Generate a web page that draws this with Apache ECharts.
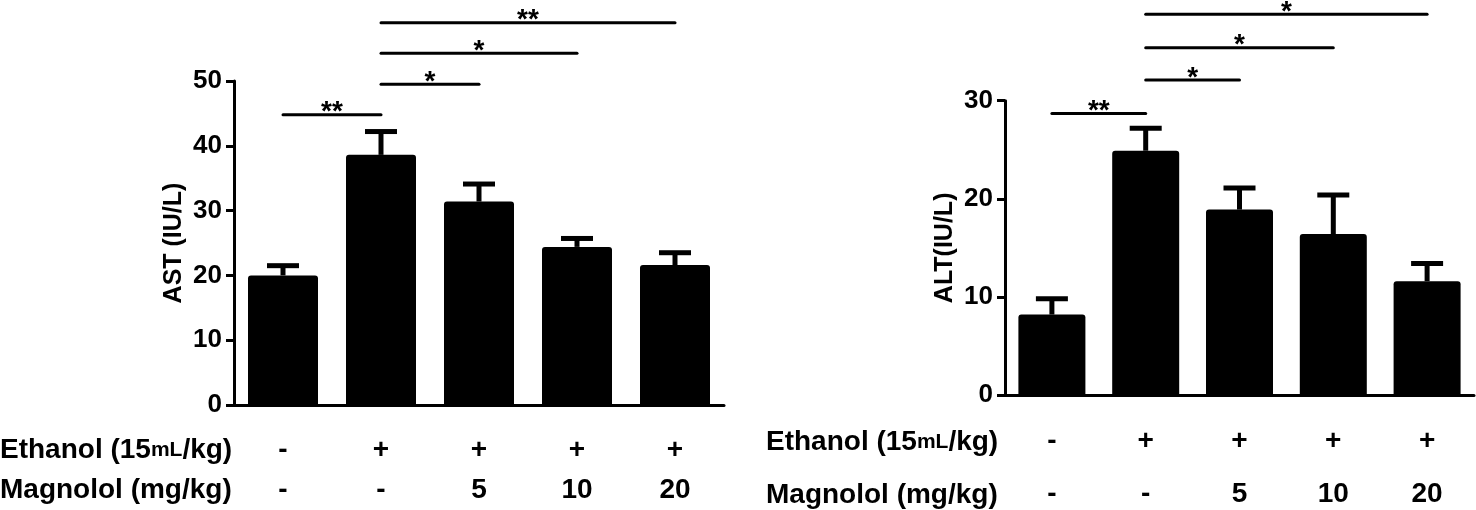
<!DOCTYPE html>
<html>
<head>
<meta charset="utf-8">
<script src="https://cdn.jsdelivr.net/npm/echarts@6.0.0/dist/echarts.min.js"></script>
<style>
html, body { margin: 0; padding: 0; background: #fff; }
#chart { width: 1476px; height: 510px; }
</style>
</head>
<body>
<div id="chart"></div>
<script>
// groups and the two label rows under the bars
var groups = ['control', 'ethanol', 'mag5', 'mag10', 'mag20'];
var ethanolRow = ['-', '+', '+', '+', '+'];
var magnololRow = ['-', '-', '5', '10', '20'];

// AST (IU/L): mean and error
var astMean = [20.0, 38.6, 31.4, 24.4, 21.6];
var astErr = [1.5, 3.6, 2.7, 1.3, 1.9];

// ALT (IU/L): mean and error
var altMean = [8.2, 24.9, 18.9, 16.4, 11.6];
var altErr = [1.6, 2.3, 2.2, 4.0, 1.8];

// significance brackets: [from group, to group, height, stars]
var astSig = [[0, 1, 44.8, '**'], [1, 2, 49.5, '*'], [1, 3, 54.3, '*'], [1, 4, 59.0, '**']];
var altSig = [[0, 1, 28.7, '**'], [1, 2, 32.1, '*'], [1, 3, 35.4, '*'], [1, 4, 38.8, '*']];

var FONT = '"Liberation Sans", Arial, Helvetica, sans-serif';

var chart = echarts.init(document.getElementById('chart'));

function errorItem(params, api) {
	var x = api.value(0), m = api.value(1), e = api.value(2);
	var p0 = api.coord([x, m]);
	var p1 = api.coord([x, m + e]);
	var half = 16;
	return {
		type: 'group',
		children: [
			{type: 'line', shape: {x1: p0[0], y1: p0[1], x2: p1[0], y2: p1[1]}, style: {stroke: '#000', lineWidth: 5}},
			{type: 'line', shape: {x1: p1[0] - half, y1: p1[1], x2: p1[0] + half, y2: p1[1]}, style: {stroke: '#000', lineWidth: 5}}
		]
	};
}

function sigRenderer(list) {
	return function (params, api) {
		var a = api.coord([api.value(0), api.value(2)]);
		var b = api.coord([api.value(1), api.value(2)]);
		var stars = list[params.dataIndex][3];
		return {
			type: 'group',
			children: [
				{type: 'line', shape: {x1: a[0], y1: a[1], x2: b[0], y2: b[1]},
					style: {stroke: '#000', lineWidth: 3, lineCap: 'round'}},
				{type: 'text', style: {
					text: stars, x: (a[0] + b[0]) / 2, y: a[1] - 2,
					fontSize: 28, fontWeight: 'bold', fontFamily: FONT, fill: '#000',
					align: 'center', verticalAlign: 'middle',
					textAlign: 'center', textVerticalAlign: 'middle'
				}}
			]
		};
	};
}

function xAxisFor(gridIndex, margin, lineHeight) {
	return {
		type: 'category',
		gridIndex: gridIndex,
		data: groups,
		axisLine: {lineStyle: {color: '#000', width: 3}},
		axisTick: {alignWithLabel: true, length: 9, lineStyle: {color: '#000', width: 3}},
		axisLabel: {
			margin: margin,
			interval: 0,
			color: '#000',
			fontSize: 28,
			fontWeight: 'bold',
			fontFamily: FONT,
			lineHeight: lineHeight,
			formatter: function (v, i) { return ethanolRow[i] + '\n' + magnololRow[i]; }
		},
		splitLine: {show: false}
	};
}

function yAxisFor(gridIndex, name, max) {
	return {
		type: 'value',
		gridIndex: gridIndex,
		min: 0,
		max: max,
		interval: 10,
		name: name,
		nameLocation: 'middle',
		nameGap: 47,
		nameTextStyle: {color: '#000', fontSize: 25, fontWeight: 'bold', fontFamily: FONT},
		axisLine: {show: true, lineStyle: {color: '#000', width: 3}},
		axisTick: {show: true, length: 8, lineStyle: {color: '#000', width: 3}},
		axisLabel: {margin: 12, color: '#000', fontSize: 26, fontWeight: 'bold', fontFamily: FONT},
		splitLine: {show: false}
	};
}

function rowLabel(text, x, y) {
	return {
		type: 'text',
		left: x,
		top: y - 14,
		style: {
			text: text,
			fill: '#000',
			fontSize: 28,
			fontWeight: 'bold',
			fontFamily: FONT,
			rich: {s: {fontSize: 21, fontWeight: 'bold', fontFamily: FONT, fill: '#000'}}
		}
	};
}

option = {
	animation: false,
	backgroundColor: '#fff',
	grid: [
		{left: 234, top: 81, width: 490, height: 324, outerBoundsMode: 'none'},
		{left: 1005, top: 100.7, width: 469, height: 294.3, outerBoundsMode: 'none'}
	],
	xAxis: [xAxisFor(0, 25, 40), xAxisFor(1, 20, 53)],
	yAxis: [yAxisFor(0, 'AST (IU/L)', 50), yAxisFor(1, 'ALT(IU/L)', 30)],
	graphic: [
		rowLabel('Ethanol (15{s|mL}/kg)', 0, 450),
		rowLabel('Magnolol (mg/kg)', 0, 490),
		rowLabel('Ethanol (15{s|mL}/kg)', 766, 442),
		rowLabel('Magnolol (mg/kg)', 766, 495)
	],
	series: [
		{
			type: 'bar', xAxisIndex: 0, yAxisIndex: 0, barWidth: 70,
			data: astMean,
			itemStyle: {color: '#000', borderRadius: [3, 3, 0, 0]}
		},
		{
			type: 'custom', xAxisIndex: 0, yAxisIndex: 0,
			renderItem: errorItem,
			encode: {x: 0, y: 1},
			data: groups.map(function (g, i) { return [i, astMean[i], astErr[i]]; }),
			z: 3
		},
		{
			type: 'custom', xAxisIndex: 0, yAxisIndex: 0,
			renderItem: sigRenderer(astSig),
			encode: {x: [0, 1], y: 2},
			data: astSig.map(function (s) { return [s[0], s[1], s[2]]; }),
			z: 3
		},
		{
			type: 'bar', xAxisIndex: 1, yAxisIndex: 1, barWidth: 67,
			data: altMean,
			itemStyle: {color: '#000', borderRadius: [3, 3, 0, 0]}
		},
		{
			type: 'custom', xAxisIndex: 1, yAxisIndex: 1,
			renderItem: errorItem,
			encode: {x: 0, y: 1},
			data: groups.map(function (g, i) { return [i, altMean[i], altErr[i]]; }),
			z: 3
		},
		{
			type: 'custom', xAxisIndex: 1, yAxisIndex: 1,
			renderItem: sigRenderer(altSig),
			encode: {x: [0, 1], y: 2},
			data: altSig.map(function (s) { return [s[0], s[1], s[2]]; }),
			z: 3
		}
	]
};
chart.setOption(option);
</script>
</body>
</html>
